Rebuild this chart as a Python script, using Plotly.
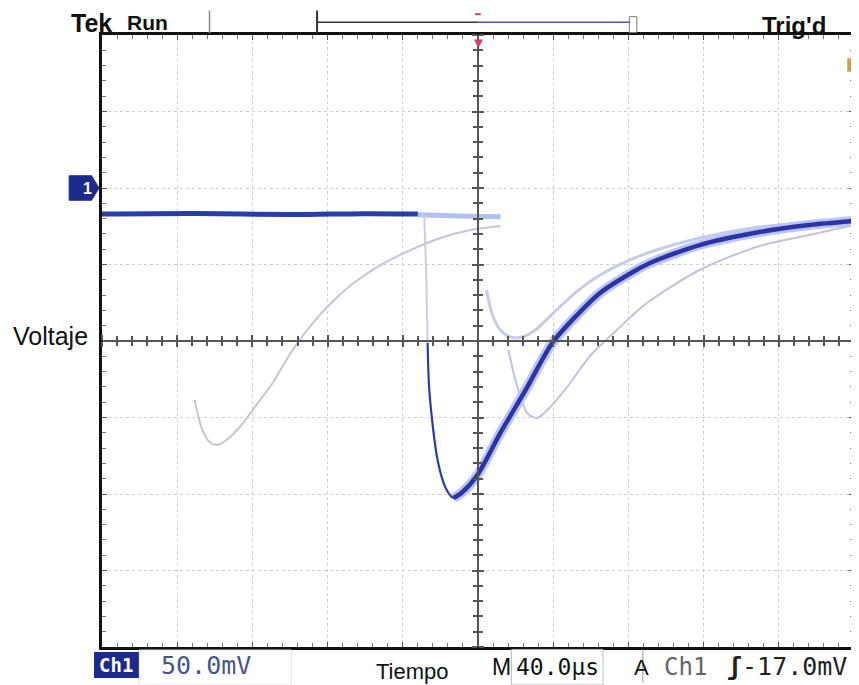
import plotly.graph_objects as go

# time in microseconds (40 us/div), voltage in mV (50 mV/div), ground at 0 mV
baseline_t = [-200, -150, -100, -60, -32]
baseline_v = [-17.0, -16.6, -17.4, -16.8, -17.0]
ghost_base_t = [-32, -10, 12]
ghost_base_v = [-17.5, -18.3, -18.8]

main_fall_t = [-30.0, -28.6, -27.6, -26.8]
main_fall_v = [-17.0, -18.3, -53.6, -101.3]
main_t = [-26.8, -25.8, -21.5, -17.2, -13.0, -8.2, -0.3, 11.9, 26.2, 39.5,
          52.7, 64.9, 82.4, 91.5, 117.9, 149.7, 176.2, 200.0]
main_v = [-101.3, -134.0, -177.8, -196.0, -202.6, -198.7, -187.6, -160.1, -130.1, -101.3,
          -83.0, -68.6, -54.9, -49.0, -37.3, -28.8, -24.2, -21.6]

ghost1_t = [-150.7, -147.0, -142.8, -139.1, -133.8, -125.8, -117.9, -110.0, -99.3,
            -88.7, -78.1, -67.5, -51.7, -35.8, -19.9, -4.0, 11.9]
ghost1_v = [-138.6, -156.9, -166.0, -168.0, -164.7, -154.9, -141.8, -128.8, -107.2,
            -89.5, -75.2, -63.4, -50.3, -40.5, -32.7, -27.5, -24.8]

ghost2_t = [4.5, 7.7, 11.9, 17.2, 23.6, 30.5, 38.4, 51.7, 64.9, 86.1, 117.9, 149.7, 200.0]
ghost2_v = [-66.7, -83.0, -92.8, -97.4, -97.4, -92.8, -83.7, -68.6, -56.9, -44.4,
            -32.7, -25.5, -20.9]

ghost3_t = [16.2, 19.9, 26.2, 31.5, 38.4, 47.4, 59.6, 73.9, 89.8, 117.9, 149.7, 176.2, 200.0]
ghost3_v = [-105.9, -125.5, -147.1, -150.3, -143.1, -130.1, -109.8, -92.8, -75.2,
            -53.6, -37.9, -30.7, -24.2]

ch_scale = "50.0mV"
time_scale = "40.0µs"
trig_level = "-17.0mV"

mono = "DejaVu Sans Mono"
sans = "Liberation Sans"
dark_blue = "#1c2a8c"

fig = go.Figure()
sp = dict(shape="spline", smoothing=0.8)
rise = 4  # index of the pulse minimum

fig.add_trace(go.Scatter(x=ghost1_t, y=ghost1_v, mode="lines",
                         line=dict(color="#c3c6d6", width=2, **sp)))
fig.add_trace(go.Scatter(x=ghost3_t, y=ghost3_v, mode="lines",
                         line=dict(color="#bfc4dc", width=2, **sp)))
fig.add_trace(go.Scatter(x=ghost2_t, y=ghost2_v, mode="lines",
                         line=dict(color="#c6cce6", width=3, **sp)))
fig.add_trace(go.Scatter(x=ghost_base_t, y=ghost_base_v, mode="lines",
                         line=dict(color="#b0c0ee", width=5, **sp)))
fig.add_trace(go.Scatter(x=main_t[rise:], y=main_v[rise:], mode="lines",
                         line=dict(color="#bcc6ee", width=10, **sp)))
fig.add_trace(go.Scatter(x=main_fall_t, y=main_fall_v, mode="lines",
                         line=dict(color="#c9cdea", width=2)))
fig.add_trace(go.Scatter(x=main_t, y=main_v, mode="lines",
                         line=dict(color="#3038b0", width=2.2, **sp)))
fig.add_trace(go.Scatter(x=main_t[rise:], y=main_v[rise:], mode="lines",
                         line=dict(color="#2a33a8", width=4.5, **sp)))
fig.add_trace(go.Scatter(x=baseline_t, y=baseline_v, mode="lines",
                         line=dict(color="#2240a6", width=5, **sp)))

border = dict(showline=True, linecolor="#111111", linewidth=3, mirror="allticks",
              ticks="inside", ticklen=5, tickcolor="#555555", tickwidth=1,
              showticklabels=False, zeroline=False,
              showgrid=True, gridcolor="#cfcfcf", griddash="dot", gridwidth=1)
center = dict(showline=True, linecolor="#555555", linewidth=1.5, ticklen=5,
              tickcolor="#555555", tickwidth=1.5, showticklabels=False,
              zeroline=False, showgrid=False)

# page body adds 8px, so the figure is 8px smaller than the window
fig.update_layout(
    width=851, height=677,
    margin=dict(l=94, r=2, t=27, b=38),
    paper_bgcolor="white", plot_bgcolor="white",
    showlegend=False,
    xaxis=dict(range=[-200, 200], dtick=40, minor=dict(dtick=8, ticks="inside", ticklen=4,
                                                       tickcolor="#777777"), **border),
    yaxis=dict(range=[-300, 100], dtick=50, minor=dict(dtick=10, ticks="inside", ticklen=4,
                                                       tickcolor="#777777"), **border),
    xaxis2=dict(overlaying="x", anchor="free", position=0.5, side="bottom", ticks="outside",
                range=[-200, 200], dtick=40, minor=dict(dtick=8, ticks="outside", ticklen=4),
                **center),
    xaxis3=dict(overlaying="x", anchor="free", position=0.5, side="top", ticks="outside",
                range=[-200, 200], dtick=40, minor=dict(dtick=8, ticks="outside", ticklen=4),
                **center),
    yaxis2=dict(overlaying="y", anchor="free", position=0.5, side="left", ticks="outside",
                range=[-300, 100], dtick=50, minor=dict(dtick=10, ticks="outside", ticklen=4),
                **center),
    yaxis3=dict(overlaying="y", anchor="free", position=0.5, side="right", ticks="outside",
                range=[-300, 100], dtick=50, minor=dict(dtick=10, ticks="outside", ticklen=4),
                **center),
)
# keep the overlay axes alive
fig.add_trace(go.Scatter(x=[None], y=[None], xaxis="x2", yaxis="y2", showlegend=False))
fig.add_trace(go.Scatter(x=[None], y=[None], xaxis="x3", yaxis="y3", showlegend=False))

# top status bar
fig.add_shape(type="line", xref="x", yref="paper", x0=-142.8, x1=-142.8, y0=1.003, y1=1.04,
              line=dict(color="#888888", width=1.5))
fig.add_shape(type="line", xref="x", yref="paper", x0=-85.6, x1=-85.6, y0=1.003, y1=1.04,
              line=dict(color="#333333", width=2))
fig.add_shape(type="line", xref="x", yref="paper", x0=-85.6, x1=0, y0=1.021, y1=1.021,
              line=dict(color="#333333", width=1.5))
fig.add_shape(type="line", xref="x", yref="paper", x0=0, x1=81, y0=1.021, y1=1.021,
              line=dict(color="#4a58b0", width=1.5))
fig.add_shape(type="rect", xref="x", yref="paper", x0=80.5, x1=84.5, y0=1.004, y1=1.03,
              line=dict(color="#777777", width=1))
fig.add_shape(type="line", xref="x", yref="paper", x0=-1.5, x1=1.5, y0=1.034, y1=1.034,
              line=dict(color="#d0406a", width=2))
fig.add_annotation(x=0, y=0.989, xref="x", yref="paper", text="▼", showarrow=False,
                   font=dict(color="#d0406a", size=15), yanchor="middle")
fig.add_annotation(x=0.016, y=1.02, xref="paper", yref="paper", yanchor="middle",
                   text="<b>Tek</b>", showarrow=False, xanchor="right",
                   font=dict(family=sans, size=25, color="#111111"))
fig.add_annotation(x=0.031, y=1.02, xref="paper", yref="paper", yanchor="middle",
                   text="<b>Run</b>", showarrow=False, xanchor="left",
                   font=dict(family=sans, size=21, color="#111111"))
fig.add_annotation(x=0.966, y=1.016, xref="paper", yref="paper", yanchor="middle",
                   text="<b>Trig'd</b>", showarrow=False, xanchor="right",
                   font=dict(family=sans, size=24, color="#111111"))
fig.add_shape(type="rect", xref="paper", yref="paper", x0=0.991, x1=1.0, y0=0.94, y1=0.962,
              fillcolor="#d49a4a", line=dict(width=0))

# ground marker for channel 1
fig.add_shape(type="path", xref="paper", yref="y",
              path="M -0.0437,8 L -0.0139,8 L -0.004,0 L -0.0139,-8 L -0.0437,-8 Z",
              fillcolor=dark_blue, line=dict(color=dark_blue, width=1))
fig.add_annotation(x=-0.0275, y=0, xref="paper", yref="y", text="<b>1</b>", showarrow=False,
                   font=dict(color="white", size=16, family=sans), yanchor="middle")

fig.add_annotation(x=-0.016, y=-97, xref="paper", yref="y", text="Voltaje", showarrow=False,
                   xanchor="right", yanchor="middle",
                   font=dict(family=sans, size=25, color="#111111"))

# bottom readout
fig.add_shape(type="rect", xref="paper", yref="paper", x0=0.049, x1=0.2517, y0=-0.005,
              y1=-0.062, line=dict(color="#e4e4e4", width=1))
fig.add_shape(type="rect", xref="paper", yref="paper", x0=-0.0106, x1=0.049, y0=-0.0082,
              y1=-0.0507, fillcolor=dark_blue, line=dict(width=0))
fig.add_annotation(x=0.0192, y=-0.0295, xref="paper", yref="paper", text="<b>Ch1</b>",
                   showarrow=False, xanchor="center", yanchor="middle",
                   font=dict(family=mono, size=19, color="white"))
fig.add_annotation(x=0.0755, y=-0.031, xref="paper", yref="paper", text=ch_scale,
                   showarrow=False, xanchor="left", yanchor="middle",
                   font=dict(family=mono, size=25, color="#4a5590"))
fig.add_annotation(x=0.3616, y=-0.04, xref="paper", yref="paper", text="Tiempo",
                   showarrow=False, xanchor="left", yanchor="middle",
                   font=dict(family=sans, size=22, color="#111111"))
fig.add_annotation(x=0.5166, y=-0.033, xref="paper", yref="paper", text="M", showarrow=False,
                   xanchor="left", yanchor="middle",
                   font=dict(family=sans, size=23, color="#111111"))
fig.add_shape(type="rect", xref="paper", yref="paper", x0=0.5444, x1=0.6662, y0=-0.004,
              y1=-0.062, line=dict(color="#bbbbbb", width=1))
fig.add_annotation(x=0.5475, y=-0.032, xref="paper", yref="paper", text=time_scale,
                   showarrow=False, xanchor="left", yanchor="middle",
                   font=dict(family=mono, size=23, color="#111111"))
fig.add_annotation(x=0.705, y=-0.033, xref="paper", yref="paper", text="A", showarrow=False,
                   xanchor="left", yanchor="middle",
                   font=dict(family=sans, size=22, color="#111111"))
fig.add_shape(type="line", xref="paper", yref="paper", x0=0.7192, x1=0.7192, y0=-0.004,
              y1=-0.058, line=dict(color="#999999", width=1))
fig.add_annotation(x=0.745, y=-0.032, xref="paper", yref="paper", text="Ch1", showarrow=False,
                   xanchor="left", yanchor="middle",
                   font=dict(family=mono, size=24, color="#666666"))
fig.add_annotation(x=0.994, y=-0.032, xref="paper", yref="paper",
                   text="<b>ʃ</b>" + trig_level, showarrow=False, xanchor="right",
                   yanchor="middle", font=dict(family=mono, size=25, color="#222222"))

fig.write_html("out.html")
